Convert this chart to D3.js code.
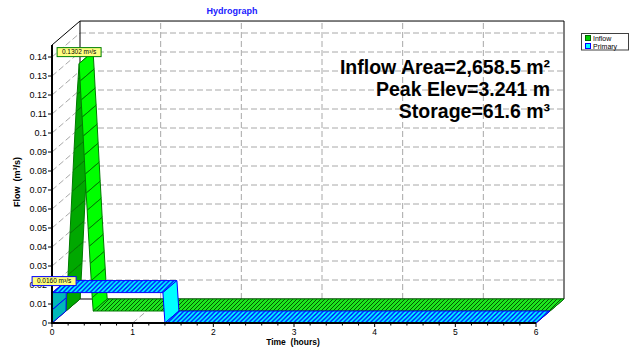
<!DOCTYPE html>
<html><head><meta charset="utf-8">
<script src="https://cdn.jsdelivr.net/npm/d3@7"></script>
<style>body{margin:0;background:#fff}</style>
</head><body><svg id="c" width="642" height="347"></svg>
<script>
// ---------- data ----------
const inflowTime = [0, 0.0125, 0.025, 0.0375, 0.05, 0.0625, 0.075, 0.0875, 0.1, 0.1125, 0.125, 0.1375, 0.15, 0.1625,
  0.175, 0.1875, 0.2, 0.2125, 0.225, 0.2375, 0.25, 0.2625, 0.275, 0.2875, 0.3, 0.3125, 0.325, 0.3375, 6.0];
const inflowFlow = [0, 0.009, 0.019, 0.030, 0.041, 0.052, 0.063, 0.074, 0.085, 0.095, 0.105, 0.114, 0.122, 0.1302,
  0.121, 0.111, 0.102, 0.092, 0.082, 0.072, 0.062, 0.053, 0.043, 0.034, 0.025, 0.016, 0.007, 0.000, 0.000];
const primaryTime = [0, 0.003, 0.006, 1.375, 1.40, 6.0];
const primaryFlow = [0, 0.007, 0.0160, 0.0160, 0, 0];
const xTicks = [0, 1, 2, 3, 4, 5, 6];
const yTicks = [0, 0.01, 0.02, 0.03, 0.04, 0.05, 0.06, 0.07, 0.08, 0.09, 0.1, 0.11, 0.12, 0.13, 0.14];
const yTickLabels = ["0","0.01","0.02","0.03","0.04","0.05","0.06","0.07","0.08","0.09","0.1","0.11","0.12","0.13","0.14"];
const seriesNames = ["Inflow", "Primary"];
const peakLabels = ["0.1302 m³/s", "0.0160 m³/s"];
const infoLines = ["Inflow Area=2,658.5 m²", "Peak Elev=3.241 m", "Storage=61.6 m³"];
const titleText = "Hydrograph";
const xTitle = "Time  (hours)";
const yTitle = "Flow  (m³/s)";

// ---------- layout ----------
const svg = d3.select("#c");
const FONT = "'Liberation Sans', Arial, sans-serif";
const x = d3.scaleLinear().domain([0, 6]).range([52, 536]);
const y = d3.scaleLinear().domain([0, 0.14]).range([323, 57]);
const yTop = 0.1463;
const DX = 28, DY = -24;
const P = (t, v, d) => [x(t) + DX * d, y(v) + DY * d];

const defs = svg.append("defs");
function hatch(id, bg, fg, w, sw) {
  const p = defs.append("pattern").attr("id", id).attr("patternUnits", "userSpaceOnUse")
    .attr("width", w).attr("height", w);
  p.append("rect").attr("width", w).attr("height", w).attr("fill", bg);
  p.append("path").attr("d", `M${-w/2},${w/2} L${w/2},${-w/2} M0,${w} L${w},0 M${w/2},${w*1.5} L${w*1.5},${w/2}`)
    .attr("stroke", fg).attr("stroke-width", sw);
}
hatch("hg", "#1ee61e", "#005a00", 4, 1);
hatch("hb", "#00ffff", "#0000ff", 4.5, 1.4);

const grid = svg.append("g").attr("stroke", "#a8a8a8").attr("stroke-dasharray", "6,3").attr("fill", "none");
yTicks.slice(1).forEach(v => {
  const a = P(0, v, 1), b = P(6, v, 1);
  grid.append("line").attr("x1", a[0]).attr("y1", a[1]).attr("x2", b[0]).attr("y2", b[1]);
  const c = P(0, v, 0);
  grid.append("line").attr("x1", c[0]).attr("y1", c[1]).attr("x2", a[0]).attr("y2", a[1]);
});
xTicks.slice(1, -1).forEach(t => {
  const a = P(t, 0, 1), b = P(t, yTop, 1), c = P(t, 0, 0);
  grid.append("line").attr("x1", a[0]).attr("y1", a[1]).attr("x2", b[0]).attr("y2", b[1]);
  grid.append("line").attr("x1", c[0]).attr("y1", c[1]).attr("x2", a[0]).attr("y2", a[1]);
});

// frame
const fr = svg.append("g").attr("stroke", "#000").attr("fill", "none").attr("stroke-width", 1);
const path = pts => "M" + pts.map(p => p.join(",")).join("L");
fr.append("path").attr("d", path([P(0, 0, 1), P(0, yTop, 1), P(6, yTop, 1), P(6, 0, 1), P(0, 0, 1)]));
fr.append("path").attr("d", path([P(0, yTop, 0), P(0, yTop, 1)]));
fr.append("path").attr("d", path([P(0, 0, 0), P(0, 0, 1)]));
fr.append("path").attr("d", path([P(6, 0, 0), P(6, 0, 1)]));

// ribbons
function ribbon(ts, vs, d0, d1, st) {
  const g = svg.append("g");
  for (let i = 0; i < ts.length - 1; i++) {
    const t0 = ts[i], t1 = ts[i + 1], v0 = vs[i], v1 = vs[i + 1];
    const fill = v1 === v0 ? st.hatch : (v1 > v0 ? st.rise : st.fall);
    g.append("path").attr("d", path([P(t0, v0, d0), P(t1, v1, d0), P(t1, v1, d1), P(t0, v0, d1)]) + "Z")
      .attr("fill", fill).attr("stroke", st.stroke).attr("stroke-width", 1).attr("stroke-linejoin", "round");
  }
}
ribbon(inflowTime, inflowFlow, 0.5, 1, {hatch: "url(#hg)", rise: "#00a800", fall: "#00ff00", stroke: "#007a00"});
ribbon(primaryTime, primaryFlow, 0, 0.5, {hatch: "url(#hb)", rise: "#00b8b8", fall: "#00ffff", stroke: "#0000ff"});

// axes
const ax = svg.append("g").attr("font-family", FONT).attr("font-size", 9).attr("fill", "#000");
ax.append("line").attr("x1", x(0)).attr("x2", x(0)).attr("y1", y(0) + 1).attr("y2", y(yTop)).attr("stroke", "#000").attr("stroke-width", 2);
ax.append("line").attr("x1", x(0) - 1).attr("x2", x(6)).attr("y1", y(0)).attr("y2", y(0)).attr("stroke", "#000").attr("stroke-width", 2);
yTicks.forEach((v, i) => {
  ax.append("line").attr("x1", x(0) - 4).attr("x2", x(0)).attr("y1", y(v)).attr("y2", y(v)).attr("stroke", "#000");
  ax.append("text").attr("x", x(0) - 5).attr("y", y(v) + 3.2).attr("text-anchor", "end").text(yTickLabels[i]);
});
d3.range(0, 6.001, 0.2).forEach(t => {
  const major = Math.abs(t - Math.round(t)) < 1e-6;
  ax.append("line").attr("x1", x(t)).attr("x2", x(t)).attr("y1", y(0)).attr("y2", y(0) + (major ? 4 : 2.5)).attr("stroke", "#000");
});
xTicks.forEach(t => ax.append("text").attr("x", x(t)).attr("y", 334.5).attr("font-size", 8.5).attr("text-anchor", "middle").text(t));
ax.append("text").attr("x", 293).attr("y", 345).attr("font-size", 8.5).attr("text-anchor", "middle").attr("font-weight", "bold").attr("xml:space", "preserve").text(xTitle);
ax.append("text").attr("transform", "translate(20,182) rotate(-90)").attr("text-anchor", "middle").attr("font-weight", "bold").attr("xml:space", "preserve").text(yTitle);

// title
svg.append("text").attr("x", 232).attr("y", 14).attr("text-anchor", "middle").attr("font-family", FONT)
  .attr("font-weight", "bold").attr("font-size", 9).attr("fill", "#2020ff").text(titleText);

// info text
infoLines.forEach((s, i) => svg.append("text").attr("x", 550).attr("y", 74 + i * 22).attr("text-anchor", "end")
  .attr("font-family", FONT).attr("font-weight", "bold").attr("font-size", 19.5).attr("fill", "#000").text(s));

// peak labels
function peakLabel(t, v, d, txt, col) {
  const p = P(t, v, d);
  const w = 44, h = 9;
  const g = svg.append("g");
  g.append("rect").attr("x", p[0] - w / 2).attr("y", p[1] - 7 - h).attr("width", w).attr("height", h)
    .attr("fill", "#ffff80").attr("stroke", col).attr("stroke-width", 1);
  g.append("text").attr("x", p[0]).attr("y", p[1] - 9.5).attr("text-anchor", "middle").attr("font-family", FONT)
    .attr("font-size", 6.5).attr("fill", "#000").text(txt);
}
const iPk = inflowFlow.indexOf(d3.max(inflowFlow));
peakLabel(inflowTime[iPk], inflowFlow[iPk], 0.5, peakLabels[0], "#008000");
const jPk = primaryFlow.indexOf(d3.max(primaryFlow));
peakLabel(primaryTime[jPk] + 0.02, primaryFlow[jPk], 0, peakLabels[1], "#0000ff");

// legend
const lg = svg.append("g").attr("font-family", FONT).attr("font-size", 7);
lg.append("rect").attr("x", 581.5).attr("y", 33.5).attr("width", 47).attr("height", 16.5).attr("fill", "#fff").attr("stroke", "#404040");
const legFill = ["#00cc00", "#00ffff"], legStroke = ["#006600", "#0000ff"];
seriesNames.forEach((s, i) => {
  lg.append("rect").attr("x", 585.5).attr("y", 35.5 + i * 8).attr("width", 5).attr("height", 5)
    .attr("fill", legFill[i]).attr("stroke", legStroke[i]);
  lg.append("text").attr("x", 593).attr("y", 40.5 + i * 8).text(s);
});
</script></body></html>
